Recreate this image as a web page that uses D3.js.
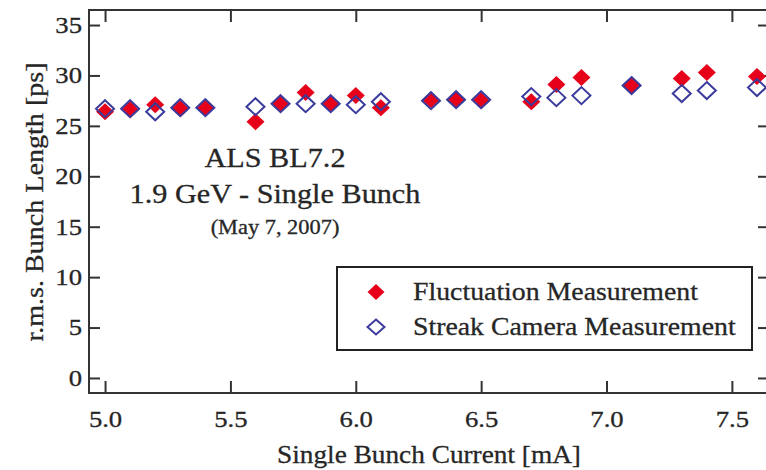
<!DOCTYPE html>
<html>
<head>
<meta charset="utf-8">
<script src="https://cdn.jsdelivr.net/npm/d3@7"></script>
<style>
  body { margin: 0; background: #fff; }
  svg { display: block; overflow: hidden; }
  text { font-family: "Liberation Serif", "Times New Roman", serif; fill: #262626;
    stroke: #262626; stroke-width: 0.3px; }
</style>
</head>
<body>
<svg id="chart" width="766" height="470"></svg>
<script>
"use strict";

// Data
const current = [5.0, 5.1, 5.2, 5.3, 5.4, 5.6, 5.7, 5.8, 5.9, 6.0, 6.1,
  6.3, 6.4, 6.5, 6.7, 6.8, 6.9, 7.1, 7.3, 7.4, 7.6];
const fluctuation = [26.4, 26.6, 27.1, 26.7, 26.8, 25.4, 27.2, 28.3, 27.2, 28.0, 26.8,
  27.6, 27.6, 27.5, 27.4, 29.1, 29.8, 29.0, 29.7, 30.3, 29.9];
const streak = [26.7, 26.7, 26.4, 26.8, 26.8, 26.9, 27.2, 27.2, 27.2, 27.1, 27.4,
  27.5, 27.6, 27.6, 27.9, 27.8, 28.0, 29.0, 28.2, 28.5, 28.8];
const xTicks = [5.0, 5.5, 6.0, 6.5, 7.0, 7.5];
const yTicks = [0, 5, 10, 15, 20, 25, 30, 35];
const seriesNames = ["Fluctuation Measurement", "Streak Camera Measurement"];
const noteLines = ["ALS BL7.2", "1.9 GeV - Single Bunch", "(May 7, 2007)"];

const svg = d3.select("#chart");

const plot = { left: 89, top: 10, right: 769, bottom: 393 };

const x = d3.scaleLinear()
  .domain([4.936, 7.648])
  .range([plot.left, plot.right]);

const y = d3.scaleLinear()
  .domain([-1.49, 36.49])
  .range([plot.bottom, plot.top]);

// the original picture is a bit stretched sideways, so the text is too
const sx = 1.16;

// text at (px, py), widened by k
function wideText(parent, px, py, k, str) {
  return parent.append("text")
    .attr("transform", "translate(" + px + "," + py + ") scale(" + k + ",1)")
    .text(str);
}

function diamond(w, h) {
  return "M0," + (-h) + "L" + w + ",0L0," + h + "L" + (-w) + ",0Z";
}

// axes, ticks pointing inwards on all four sides
const axisColor = "#333";

function styleAxis(g) {
  g.select(".domain").remove();
  g.selectAll(".tick line").attr("stroke", axisColor).attr("stroke-width", 2);
}

svg.append("g")
  .attr("transform", "translate(0," + plot.bottom + ")")
  .call(d3.axisBottom(x).tickValues(xTicks).tickSize(-12).tickPadding(18)
    .tickFormat(d3.format(".1f")))
  .call(styleAxis)
  .call(g => g.selectAll("text")
    .attr("font-size", 23)
    .attr("font-family", null)
    .attr("fill", null)
    .attr("transform", "scale(" + sx + ",1)"));

svg.append("g")
  .attr("transform", "translate(0," + plot.top + ")")
  .call(d3.axisTop(x).tickValues(xTicks).tickSize(-12).tickFormat(""))
  .call(styleAxis);

svg.append("g")
  .attr("transform", "translate(" + plot.left + ",0)")
  .call(d3.axisLeft(y).tickValues(yTicks).tickSize(-11).tickPadding(7))
  .call(styleAxis)
  .call(g => g.selectAll("text")
    .attr("font-size", 23)
    .attr("font-family", null)
    .attr("fill", null)
    .attr("x", -7 / sx)
    .attr("transform", "scale(" + sx + ",1)"));

svg.append("g")
  .attr("transform", "translate(" + plot.right + ",0)")
  .call(d3.axisRight(y).tickValues(yTicks).tickSize(-11).tickFormat(""))
  .call(styleAxis);

svg.append("rect")
  .attr("x", plot.left)
  .attr("y", plot.top)
  .attr("width", plot.right - plot.left)
  .attr("height", plot.bottom - plot.top)
  .attr("fill", "none")
  .attr("stroke", axisColor)
  .attr("stroke-width", 2);

// axis titles
wideText(svg, 429, 463, 1.05, "Single Bunch Current [mA]")
  .attr("text-anchor", "middle")
  .attr("font-size", 26);

svg.append("text")
  .attr("transform", "translate(43,202) rotate(-90) scale(1.08,1)")
  .attr("text-anchor", "middle")
  .attr("font-size", 26)
  .text("r.m.s. Bunch Length [ps]");

// points
const redColor = "#e6001a",
  blueColor = "#3b3b9c";

svg.append("g")
  .selectAll("path")
  .data(current)
  .enter()
  .append("path")
  .attr("transform", (d, i) => "translate(" + x(d) + "," + y(fluctuation[i]) + ")")
  .attr("d", diamond(9, 8.5))
  .attr("fill", redColor);

svg.append("g")
  .selectAll("path")
  .data(current)
  .enter()
  .append("path")
  .attr("transform", (d, i) => "translate(" + x(d) + "," + y(streak[i]) + ")")
  .attr("d", diamond(9, 8.5))
  .attr("fill", "none")
  .attr("stroke", blueColor)
  .attr("stroke-width", 2);

// note
const noteSizes = [27, 27, 20],
  noteBase = [167, 203, 234];

const noteG = svg.append("g");
noteLines.forEach((line, i) => {
  wideText(noteG, 275, noteBase[i], 1.12, line)
    .attr("text-anchor", "middle")
    .attr("font-size", noteSizes[i]);
});

// legend
const legend = svg.append("g");

legend.append("rect")
  .attr("x", 337)
  .attr("y", 267)
  .attr("width", 415)
  .attr("height", 83)
  .attr("fill", "#fff")
  .attr("stroke", "#222")
  .attr("stroke-width", 2);

seriesNames.forEach((name, i) => {
  let row = legend.append("g")
    .attr("transform", "translate(0," + (i * 35) + ")");

  row.append("path")
    .attr("transform", "translate(376,292)")
    .attr("d", i == 0 ? diamond(8.5, 8) : diamond(8.5, 7.5))
    .attr("fill", i == 0 ? redColor : "none")
    .attr("stroke", i == 0 ? "none" : blueColor)
    .attr("stroke-width", 2);

  wideText(row, 413, 300, 1.07, name)
    .attr("font-size", 26);
});
</script>
</body>
</html>
